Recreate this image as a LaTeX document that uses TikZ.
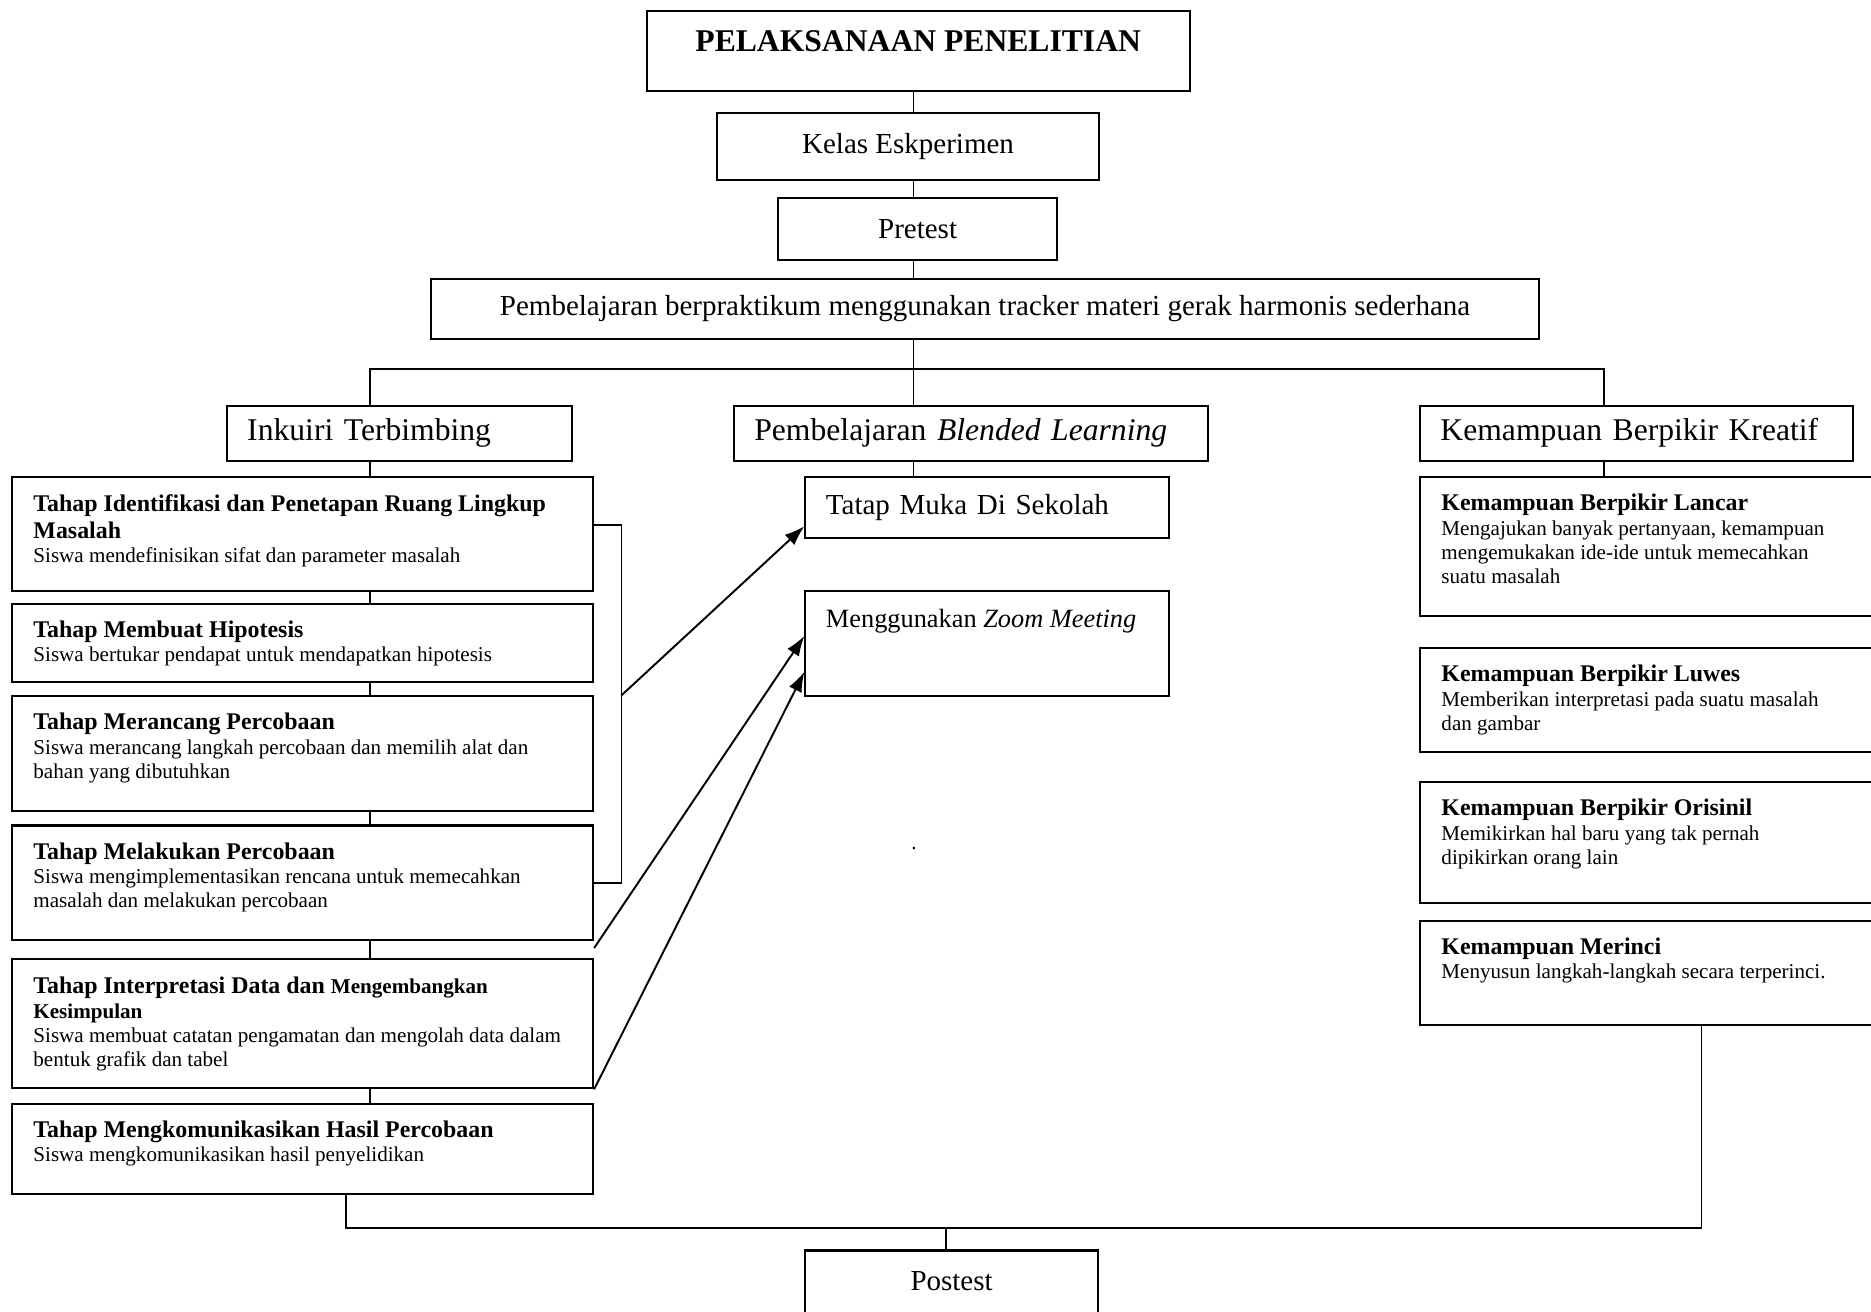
\documentclass[tikz,border=0pt]{standalone}
\usepackage{fontspec}
\setmainfont{Liberation Serif}
\usetikzlibrary{arrows.meta, positioning, calc}

\newcommand{\hdfont}{\fontsize{13.6}{15.6}\selectfont\bfseries}
\newcommand{\dsfont}{\fontsize{12}{13.8}\selectfont}
\newcommand{\topbox}[3]{\parbox[c][#2][t]{#1}{\vspace*{0.05cm}\raggedright #3}}

\begin{document}
\begin{tikzpicture}[node distance=0.3cm,
                    mainbox/.style={rectangle, draw, line width=1.2pt, align=center, inner sep=0pt, font={\fontsize{16.5}{19}\selectfont}},
                    headbox/.style={rectangle, draw, line width=1.2pt, align=left, inner xsep=0.41cm, inner ysep=0pt, minimum height=1.098cm, font={\fontsize{18}{21}\selectfont}},
                    stagebox/.style={rectangle, draw, line width=1.2pt, inner xsep=0.43cm, inner ysep=0.29cm},
                    link/.style={line width=1pt},
                    arrowlink/.style={line width=1.1pt, -{Latex[length=0.4cm, width=0.28cm]}}]

    \clip (0,0) rectangle (37.42,-26.23);

    % Main Nodes
    \node[mainbox, minimum width=10.86cm, minimum height=1.6cm, text depth=0.4cm, font={\fontsize{18}{21}\selectfont\bfseries}] (title) at (18.364,-1.014) {PELAKSANAAN PENELITIAN};
    \node[mainbox, minimum width=7.637cm, minimum height=1.336cm] (kelas) at (18.161,-2.935) {Kelas Eskperimen};
    \node[mainbox, minimum width=5.584cm, minimum height=1.241cm] (pretest) at (18.352,-4.582) {Pretest};
    \node[mainbox, minimum width=22.171cm, minimum height=1.193cm] (praktikum) at (19.701,-6.181) {Pembelajaran berpraktikum menggunakan tracker materi gerak harmonis sederhana};

    % Branch heads
    \node[headbox, text width=6.077cm] (inkuiri) at (7.983,-8.663) {Inkuiri Terbimbing};
    \node[headbox, text width=8.654cm] (blended) at (19.414,-8.663) {Pembelajaran \textit{Blended Learning}};
    \node[headbox, text width=7.843cm] (kreatif) at (32.731,-8.663) {Kemampuan Berpikir Kreatif};

    % Inkuiri stages
    \node[stagebox] (s1) at (6.05,-10.68) {\topbox{10.762cm}{1.687cm}{{\hdfont Tahap Identifikasi dan Penetapan Ruang Lingkup\\ Masalah\par}{\dsfont Siswa mendefinisikan sifat dan parameter masalah\par}}};
    \node[stagebox, below=0.227cm of s1] (s2) {\topbox{10.762cm}{0.971cm}{{\hdfont Tahap Membuat Hipotesis\par}{\dsfont Siswa bertukar pendapat untuk mendapatkan hipotesis\par}}};
    \node[stagebox, below=0.25cm of s2] (s3) {\topbox{10.762cm}{1.711cm}{{\hdfont Tahap Merancang Percobaan\par}{\dsfont Siswa merancang langkah percobaan dan memilih alat dan\\ bahan yang dibutuhkan\par}}};
    \node[stagebox, below=0.25cm of s3] (s4) {\topbox{10.762cm}{1.711cm}{{\hdfont Tahap Melakukan Percobaan\par}{\dsfont Siswa mengimplementasikan rencana untuk memecahkan\\ masalah dan melakukan percobaan\par}}};
    \node[stagebox, below=0.346cm of s4] (s5) {\topbox{10.762cm}{1.997cm}{{\hdfont Tahap Interpretasi Data dan {\fontsize{12}{14.3}\selectfont Mengembangkan}\\ {\fontsize{12}{14.3}\selectfont Kesimpulan\par}}{\dsfont Siswa membuat catatan pengamatan dan mengolah data dalam\\ bentuk grafik dan tabel\par}}};
    \node[stagebox, below=0.274cm of s5] (s6) {\topbox{10.762cm}{1.21cm}{{\hdfont Tahap Mengkomunikasikan Hasil Percobaan\par}{\dsfont Siswa mengkomunikasikan hasil penyelidikan\par}}};

    % Blended learning
    \node[headbox, text width=6.459cm, minimum height=1.217cm, font={\fontsize{16.5}{19}\selectfont}] (tatap) at (19.748,-10.155) {Tatap Muka Di Sekolah};
    \node[stagebox, inner xsep=0.41cm, inner ysep=0.33cm] (zoom) at (19.748,-12.863) {\topbox{6.459cm}{1.44cm}{\fontsize{15}{18}\selectfont Menggunakan \textit{Zoom Meeting}}};
    \node[inner sep=0pt, font={\fontsize{12}{14}\selectfont}] (dot) at (18.28,-16.98) {.};

    % Kreatif abilities
    \node[stagebox] (r1) at (33.172,-10.93) {\topbox{8.686cm}{2.188cm}{{\hdfont Kemampuan Berpikir Lancar\par}{\dsfont Mengajukan banyak pertanyaan, kemampuan\\ mengemukakan ide-ide untuk memecahkan\\ suatu masalah\par}}};
    \node[stagebox, below=0.608cm of r1] (r2) {\topbox{8.686cm}{1.496cm}{{\hdfont Kemampuan Berpikir Luwes\par}{\dsfont Memberikan interpretasi pada suatu masalah\\ dan gambar\par}}};
    \node[stagebox, below=0.561cm of r2] (r3) {\topbox{8.686cm}{1.83cm}{{\hdfont Kemampuan Berpikir Orisinil\par}{\dsfont Memikirkan hal baru yang tak pernah\\ dipikirkan orang lain\par}}};
    \node[stagebox, below=0.322cm of r3] (r4) {\topbox{8.686cm}{1.496cm}{{\hdfont Kemampuan Merinci\par}{\dsfont Menyusun langkah-langkah secara terperinci.\par}}};

    \node[mainbox, minimum width=5.847cm, minimum height=1.241cm] (postest) at (19.032,-25.631) {Postest};

    % Connector positions
    \coordinate (spine) at (18.27,0);
    \coordinate (split) at (18.27,-7.374);
    \coordinate (lx) at (7.398,0);
    \coordinate (rx) at (32.075,0);
    \coordinate (join) at (0,-24.557);
    \coordinate (bx) at (34.031,0);
    \coordinate (cx) at (6.921,0);
    \coordinate (px) at (18.925,0);

    % Connecting lines for main chain
    \draw[link] (title.south -| spine) -- (kelas.north -| spine);
    \draw[link] (kelas.south -| spine) -- (pretest.north -| spine);
    \draw[link] (pretest.south -| spine) -- (praktikum.north -| spine);
    \draw[link] (praktikum.south -| spine) -- (split);
    \draw[link] (inkuiri.north -| lx) -- (lx |- split) -- (rx |- split) -- (kreatif.north -| rx);
    \draw[link] (split) -- (blended.north -| spine);
    \draw[link] (blended.south -| spine) -- (tatap.north -| spine);

    % Connecting lines for columns
    \draw[link] (inkuiri.south -| lx) -- (s1.north -| lx);
    \foreach \xa/\xb in {s1/s2, s2/s3, s3/s4, s4/s5, s5/s6}
        \draw[link] (\xa.south -| lx) -- (\xb.north -| lx);
    \draw[link] (kreatif.south -| rx) -- (r1.north -| rx);

    % Arrows to blended learning
    \draw[link] ([yshift=0.179cm]s1.east) -- ++(0.549,0) coordinate (brk) |- (s4.east);
    \draw[arrowlink] (brk |- s3.north) -- ([yshift=-0.37cm]tatap.west);
    \draw[arrowlink] ([yshift=-0.14cm]s4.south east) -- ([yshift=0.143cm]zoom.west);
    \draw[arrowlink] (s5.south east) -- ([yshift=-0.573cm]zoom.west);

    % Lines to postest
    \draw[link] (r4.south -| bx) -- (bx |- join) -- (cx |- join) -- (s6.south -| cx);
    \draw[link] (px |- join) -- (postest.north -| px);

\end{tikzpicture}
\end{document}
